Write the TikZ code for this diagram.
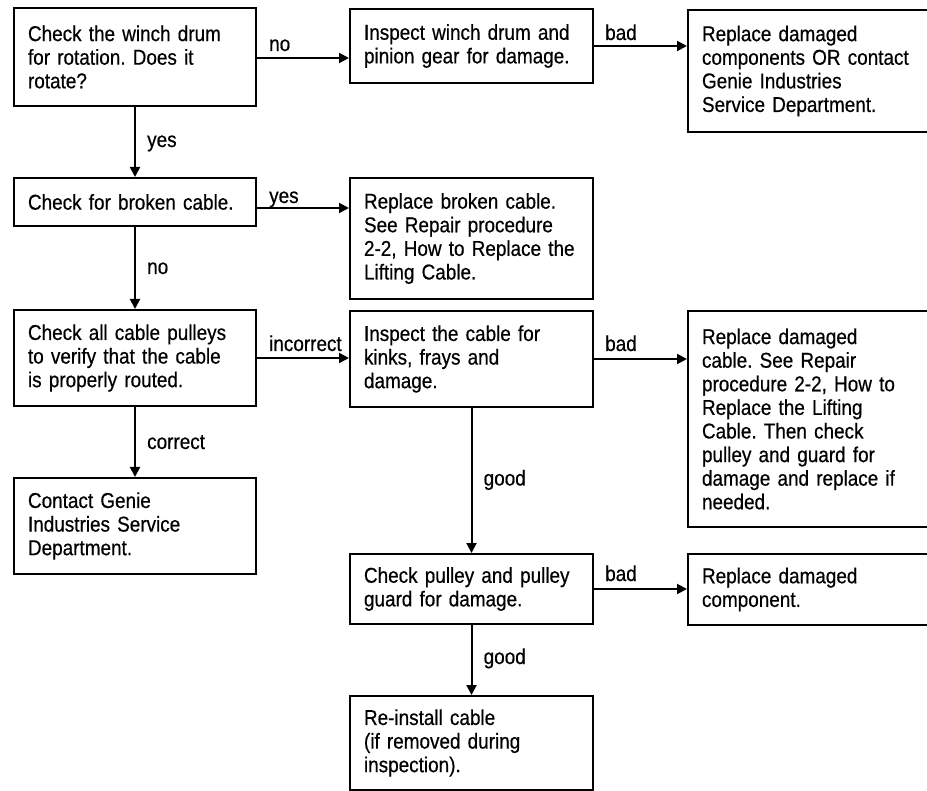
\documentclass[tikz,border=0pt]{standalone}
\usepackage{fontspec}
\setmainfont{Liberation Sans}[FakeStretch=0.88,FakeBold=0.5]
\usetikzlibrary{arrows.meta,calc}
\begin{document}
\frenchspacing
\begin{tikzpicture}[x=1pt,y=-1pt,
  box/.style={draw, line width=2pt, anchor=north west, inner xsep=14pt, inner ysep=0pt,
    align=left, font=\fontsize{21.5}{23.6}\selectfont},
  wA/.style={minimum width=242pt, text width=214pt},
  wB/.style={minimum width=243pt, text width=215pt},
  arr/.style={line width=2pt, -{Triangle[length=10pt,width=10pt]}},
  lab/.style={inner sep=0pt, anchor=base west, font=\fontsize{21.5}{23.6}\selectfont}]
\useasboundingbox (0,0) rectangle (927,791);
\clip (0,0) rectangle (927,791);
\fill[white] (0,0) rectangle (927,791);

\node[box, wA, minimum height=98pt] (b1) at (13,7) {Check the winch drum\\for rotation. Does it\\rotate?};
\node[box, wB, minimum height=74pt] (b2) at (349,8) {Inspect winch drum and\\pinion gear for damage.};
\node[box, wA, minimum height=122pt] (b3) at (687,9) {Replace damaged\\components OR contact\\Genie Industries\\Service Department.};
\node[box, wA, minimum height=48pt] (b4) at (13,177) {Check for broken cable.};
\node[box, wB, minimum height=121pt] (b5) at (349,177) {Replace broken cable.\\See Repair procedure\\2-2, How to Replace the\\Lifting Cable.};
\node[box, wA, minimum height=96pt] (b6) at (13,309) {Check all cable pulleys\\to verify that the cable\\is properly routed.};
\node[box, wB, minimum height=96pt] (b7) at (349,310) {Inspect the cable for\\kinks, frays and\\damage.};
\node[box, wA, minimum height=216pt] (b8) at (687,310) {Replace damaged\\cable. See Repair\\procedure 2-2, How to\\Replace the Lifting\\Cable. Then check\\pulley and guard for\\damage and replace if\\needed.};
\node[box, wA, minimum height=96pt] (b9) at (13,477) {Contact Genie\\Industries Service\\Department.};
\node[box, wB, minimum height=70pt] (b10) at (349,553) {Check pulley and pulley\\guard for damage.};
\node[box, wA, minimum height=71pt] (b11) at (687,553) {Replace damaged\\component.};
\node[box, wB, minimum height=94pt] (b12) at (349,695) {Re-install cable\\(if removed during\\inspection).};

\draw[arr] ([yshift=-1pt]b1.east) -- ([yshift=-1pt]b1.east -| b2.west);
\draw[arr] (b2.east) -- (b2.east -| b3.west);
\draw[arr] (b1.south) -- (b4.north);
\draw[arr] ([yshift=-6pt]b4.east) -- ([yshift=-6pt]b4.east -| b5.west);
\draw[arr] (b4.south) -- (b6.north);
\draw[arr] (b6.east) -- (b6.east -| b7.west);
\draw[arr] (b6.south) -- (b9.north);
\draw[arr] (b7.east) -- (b7.east -| b8.west);
\draw[arr] (b7.south) -- (b10.north);
\draw[arr] (b10.east) -- (b10.east -| b11.west);
\draw[arr] (b10.south) -- (b12.north);

\node[lab] (l1) at ([xshift=12pt,yshift=6pt]b1.east) {no};
\node[lab] (l2) at ([xshift=11pt,yshift=6pt]b2.east) {bad};
\node[lab] (l3) at ([xshift=12pt,yshift=-5pt]$(b1.south)!0.5!(b4.north)$) {yes};
\node[lab] (l4) at ([xshift=12pt,yshift=-1pt]b4.east) {yes};
\node[lab] (l5) at ([xshift=12pt,yshift=-6pt]$(b4.south)!0.5!(b6.north)$) {no};
\node[lab] (l6) at ([xshift=12pt,yshift=7pt]b6.east) {incorrect};
\node[lab] (l7) at ([xshift=12pt,yshift=-7pt]$(b6.south)!0.5!(b9.north)$) {correct};
\node[lab] (l8) at ([xshift=11pt,yshift=8pt]b7.east) {bad};
\node[lab] (l9) at ([xshift=12pt,yshift=-5pt]$(b7.south)!0.5!(b10.north)$) {good};
\node[lab] (l10) at ([xshift=11pt,yshift=8pt]b10.east) {bad};
\node[lab] (l11) at ([xshift=12pt,yshift=-4pt]$(b10.south)!0.5!(b12.north)$) {good};
\end{tikzpicture}
\end{document}
